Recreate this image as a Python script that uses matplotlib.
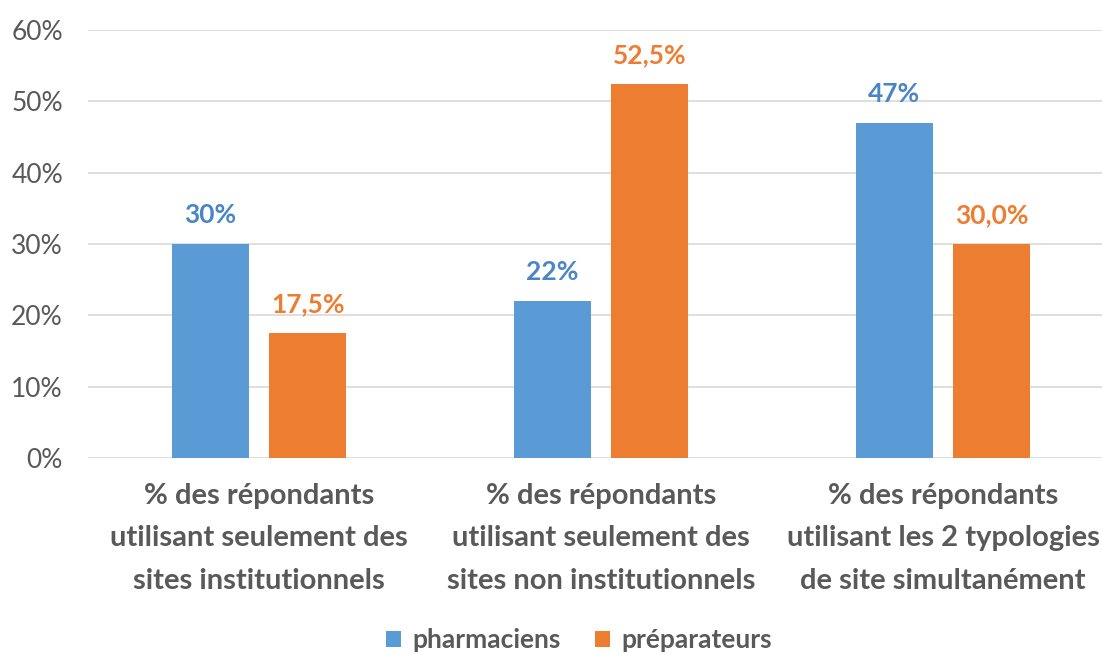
import matplotlib.pyplot as plt
import numpy as np

categories = ["% des répondants\nutilisant seulement des\nsites institutionnels",
              "% des répondants\nutilisant seulement des\nsites non institutionnels",
              "% des répondants\nutilisant les 2 typologies\nde site simultanément"]
pharmaciens = [30, 22, 47]
preparateurs = [17.5, 52.5, 30.0]
lab_pharma = ["30%", "22%", "47%"]
lab_prep = ["17,5%", "52,5%", "30,0%"]

blue = "#5B9BD5"
orange = "#ED7D31"
grey = "#595959"

plt.rcParams['font.family'] = ['Lato', 'DejaVu Sans']

fig = plt.figure(figsize=(11.02, 6.55), dpi=100)
ax = fig.add_axes([88 / 1102, 1 - 458 / 655, 1 - 88 / 1102, (458 - 30) / 655])

x = np.arange(len(categories))
w = 0.225
off = 0.143
b1 = ax.bar(x - off, pharmaciens, w, color=blue, label="pharmaciens", zorder=3)
b2 = ax.bar(x + off, preparateurs, w, color=orange, label="préparateurs", zorder=3)

for rect, t in zip(b1, lab_pharma):
    ax.annotate(t, (rect.get_x() + rect.get_width() / 2, rect.get_height()),
                xytext=(0, 12), textcoords="offset points", ha="center", va="bottom",
                color="#4A86C5", fontsize=19, fontweight="bold")
for rect, t in zip(b2, lab_prep):
    ax.annotate(t, (rect.get_x() + rect.get_width() / 2, rect.get_height()),
                xytext=(0, 12), textcoords="offset points", ha="center", va="bottom",
                color=orange, fontsize=19, fontweight="bold")

ax.set_ylim(0, 60)
ax.set_xlim(-0.5, 2.465)
ax.set_yticks(range(0, 61, 10))
ax.set_yticklabels([f"{v}%" for v in range(0, 61, 10)], color=grey, fontsize=19)
ax.set_xticks(x)
ax.set_xticklabels(categories, color=grey, fontsize=21, fontweight="bold", linespacing=1.78)
ax.tick_params(axis="both", length=0)
ax.tick_params(axis="y", pad=18)
ax.tick_params(axis="x", pad=18)
ax.grid(axis="y", color="#D9D9D9", linewidth=1.2, zorder=0)
for s in ax.spines.values():
    s.set_visible(False)

fig.legend(loc="lower center", bbox_to_anchor=(0.525, -0.032), ncol=2, frameon=False,
           handlelength=0.6, handleheight=0.6, columnspacing=1.3,
           handletextpad=0.4, prop={"weight": "bold", "size": 19}, labelcolor=grey)

fig.savefig("out.png", dpi=100)
